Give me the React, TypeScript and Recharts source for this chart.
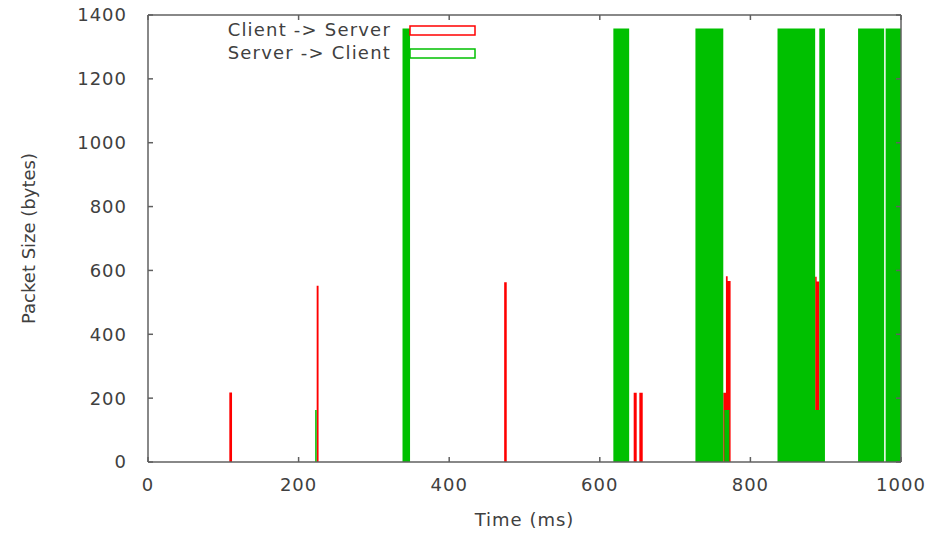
import { ComposedChart, Area, XAxis, YAxis, Legend } from 'recharts';

// bursts of packets: start (ms), end (ms), size (bytes)
const clientStart = [108, 224, 473, 645, 652.5, 764, 767.5, 769.8, 886, 888];
const clientEnd = [111.6, 226.5, 476.4, 649, 657, 767.5, 769.8, 773.7, 888, 891.5];
const clientSize = [218, 552, 563, 217, 217, 217, 582, 567, 580, 565];

const serverStart = [222, 338, 618, 727, 765.4, 836, 886, 891.5, 943, 979.6];
const serverEnd = [224, 348, 639, 764, 772, 886, 891.5, 899, 977.6, 1000];
const serverSize = [163, 1358, 1358, 1358, 163, 1358, 163, 1358, 1358, 1358];

const xTicks = [0, 200, 400, 600, 800, 1000];
const yTicks = [0, 200, 400, 600, 800, 1000, 1200, 1400];

const toSteps = (starts: number[], ends: number[], sizes: number[]) => {
  const pts: { t: number; v: number }[] = [];
  starts.forEach((s, i) => {
    pts.push({ t: s, v: sizes[i] });
    pts.push({ t: ends[i], v: 0 });
  });
  return pts;
};

const clientData = toSteps(clientStart, clientEnd, clientSize);
const serverData = toSteps(serverStart, serverEnd, serverSize);

const FONT = '"DejaVu Sans", sans-serif';
const TEXT = '#404040';
const FRAME = '#606060';

const tickStyle = { fill: TEXT, fontSize: 18, fontFamily: FONT, letterSpacing: 1 };

function KeyLegend({ payload }: any) {
  return (
    <svg width={949} height={70}>
      {(payload || []).map((p: any, i: number) => (
        <g key={p.value}>
          <text
            x={391}
            y={30 + i * 23}
            dy="0.36em"
            textAnchor="end"
            fill={TEXT}
            fontSize={18}
            fontFamily={FONT}
            letterSpacing={1.2}
          >
            {p.value}
          </text>
          <rect x={410} y={26 + i * 23} width={65} height={9} fill="#fff" stroke={p.color} strokeWidth={1.5} />
        </g>
      ))}
    </svg>
  );
}

export default function App() {
  return (
    <div style={{ position: 'absolute', left: 0, top: 0, background: '#fff' }}>
      <ComposedChart width={949} height={535} margin={{ top: 14, right: 47, bottom: 0, left: 0 }}>
        <XAxis
          dataKey="t"
          type="number"
          domain={[0, 1000]}
          ticks={xTicks}
          allowDataOverflow
          height={73}
          axisLine={{ stroke: FRAME, strokeWidth: 1.5 }}
          tickLine={{ stroke: FRAME, strokeWidth: 1.5 }}
          tickSize={-5}
          tickMargin={21}
          tick={tickStyle}
          label={{
            value: 'Time (ms)',
            position: 'insideBottom',
            offset: 9,
            fill: TEXT,
            fontSize: 18,
            fontFamily: FONT,
            style: { letterSpacing: 1 },
          }}
        />
        <XAxis
          xAxisId="top"
          orientation="top"
          dataKey="t"
          type="number"
          domain={[0, 1000]}
          ticks={xTicks}
          allowDataOverflow
          height={1}
          axisLine={{ stroke: FRAME, strokeWidth: 1.5 }}
          tickLine={{ stroke: FRAME, strokeWidth: 1.5 }}
          tickSize={-5}
          tickFormatter={() => ''}
        />
        <YAxis
          type="number"
          domain={[0, 1400]}
          ticks={yTicks}
          allowDataOverflow
          width={148}
          axisLine={{ stroke: FRAME, strokeWidth: 1.5 }}
          tickLine={{ stroke: FRAME, strokeWidth: 1.5 }}
          tickSize={-5}
          tickMargin={26}
          tick={tickStyle}
          label={{
            value: 'Packet Size (bytes)',
            angle: -90,
            position: 'insideLeft',
            offset: 29,
            fill: TEXT,
            fontSize: 18,
            fontFamily: FONT,
            style: { textAnchor: 'middle' },
          }}
        />
        <YAxis
          yAxisId="right"
          orientation="right"
          type="number"
          domain={[0, 1400]}
          ticks={yTicks}
          allowDataOverflow
          width={1}
          axisLine={{ stroke: FRAME, strokeWidth: 1.5 }}
          tickLine={{ stroke: FRAME, strokeWidth: 1.5 }}
          tickSize={-5}
          tickFormatter={() => ''}
        />
        <Legend
          layout="horizontal"
          verticalAlign="middle"
          align="center"
          content={<KeyLegend />}
          wrapperStyle={{ position: 'absolute', left: 0, top: 0, width: 949, height: 70 }}
        />
        <Area
          data={clientData}
          dataKey="v"
          name="Client -> Server"
          type="stepAfter"
          stroke="none"
          fill="#ff0000"
          fillOpacity={1}
          isAnimationActive={false}
          legendType="rect"
          color="#ff0000"
        />
        <Area
          data={serverData}
          dataKey="v"
          name="Server -> Client"
          type="stepAfter"
          stroke="none"
          fill="#00c000"
          fillOpacity={1}
          isAnimationActive={false}
          legendType="rect"
          color="#00c000"
        />
      </ComposedChart>
    </div>
  );
}
